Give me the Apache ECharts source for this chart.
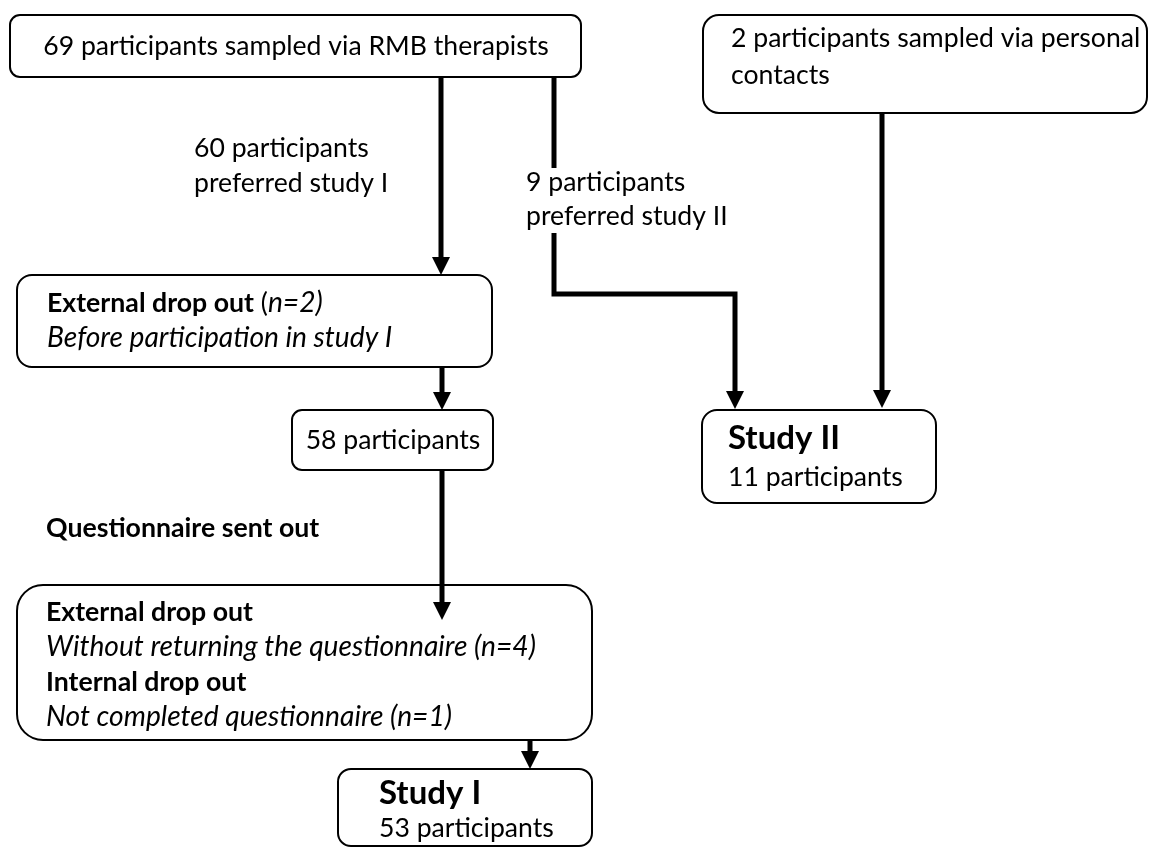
<!DOCTYPE html>
<html><head><meta charset="utf-8">
<script src="https://cdn.jsdelivr.net/npm/echarts@6/dist/echarts.min.js"></script>
<style>html,body{margin:0;padding:0;background:#fff}#c{width:1155px;height:847px}</style>
</head><body><div id="c"></div>
<script>
// ---- values (participant counts) ----
const sampledRMB = 69, sampledPersonal = 2, preferredI = 60, preferredII = 9;
const dropBefore = 2, remaining = 58, studyIICount = 11;
const dropNoReturn = 4, dropIncomplete = 1, studyICount = 53;

// ---- box rectangles [x1, y1, x2, y2] in diagram units ----
const boxRects = [
  [10, 15, 581, 77],
  [703, 15, 1147, 113],
  [17, 275, 492, 367],
  [292, 410, 493, 470],
  [702, 410, 936, 503],
  [17, 585, 592, 740],
  [338, 769, 592, 846]
];

// ---- connectors (polylines, optional arrow head) ----
const connectors = [
  { pts: [[441, 77], [441, 275]], head: true },
  { pts: [[554, 77], [554, 168]], head: false },
  { pts: [[554, 233], [554, 294], [735, 294], [735, 409]], head: true },
  { pts: [[882, 113], [882, 408]], head: true },
  { pts: [[442, 367], [442, 410]], head: true },
  { pts: [[442, 470], [442, 620]], head: true },
  { pts: [[530, 740], [530, 769]], head: true }
];

// ---- text labels ----
const labels = [
  { x: 296, y: 46, align: 'center', text: `${sampledRMB} participants sampled via RMB therapists` },
  { x: 731, y: 38, align: 'left', text: `${sampledPersonal} participants sampled via personal` },
  { x: 731, y: 75, align: 'left', text: 'contacts' },
  { x: 194, y: 148, align: 'left', text: `${preferredI} participants` },
  { x: 194, y: 183, align: 'left', text: 'preferred study I' },
  { x: 526, y: 182, align: 'left', text: `${preferredII} participants` },
  { x: 526, y: 216, align: 'left', text: 'preferred study II' },
  { x: 47, y: 303, align: 'left', text: `{b|External drop out} ({i|n=${dropBefore})}` },
  { x: 47, y: 338, align: 'left', text: '{i|Before participation in study I}' },
  { x: 393, y: 440, align: 'center', text: `${remaining} participants` },
  { x: 728, y: 438, align: 'left', text: '{h|Study II}' },
  { x: 728, y: 477, align: 'left', text: `${studyIICount} participants` },
  { x: 46, y: 528, align: 'left', text: '{b|Questionnaire sent out}' },
  { x: 46, y: 612, align: 'left', text: '{b|External drop out}' },
  { x: 46, y: 647, align: 'left', text: `{i|Without returning the questionnaire (n=${dropNoReturn})}` },
  { x: 46, y: 682, align: 'left', text: '{b|Internal drop out}' },
  { x: 46, y: 717, align: 'left', text: `{i|Not completed questionnaire (n=${dropIncomplete})}` },
  { x: 379, y: 793, align: 'left', text: '{h|Study I}' },
  { x: 379, y: 828, align: 'left', text: `${studyICount} participants` }
];

const FONT = 'Lato';
// fit font sizes so that text widths match the reference typesetting
const mctx = document.createElement('canvas').getContext('2d');
function fitSize(str, style, weight, target) {
  mctx.font = style + ' ' + weight + ' 100px ' + FONT;
  const w = mctx.measureText(str).width;
  return w > 0 ? Math.round(100 * target / w * 10) / 10 : 26;
}
const FS_N = fitSize('69 participants sampled via RMB therapists', 'normal', 'normal', 506);
const FS_I = fitSize('Without returning the questionnaire (n=4)', 'italic', 'normal', 490);
const FS_B = fitSize('External drop out', 'normal', 'bold', 207);
const FS_H = fitSize('Study II', 'normal', 'bold', 112);

const rich = {
  n: { fontFamily: FONT, fontSize: FS_N, fill: '#000' },
  b: { fontFamily: FONT, fontSize: FS_B, fontWeight: 'bold', fill: '#000' },
  i: { fontFamily: FONT, fontSize: FS_I, fontStyle: 'italic', fill: '#000' },
  h: { fontFamily: FONT, fontSize: FS_H, fontWeight: 'bold', fill: '#000' }
};

const chart = echarts.init(document.getElementById('c'), null, { renderer: 'canvas' });

chart.setOption({
  backgroundColor: '#fff',
  animation: false,
  grid: { left: 0, right: 0, top: 0, bottom: 0 },
  xAxis: { type: 'value', min: 0, max: 1155, show: false },
  yAxis: { type: 'value', min: 0, max: 847, inverse: true, show: false },
  series: [
    {
      type: 'custom', clip: false, silent: true,
      data: boxRects,
      encode: { x: [0, 2], y: [1, 3] },
      renderItem: function (params, api) {
        const p1 = api.coord([api.value(0), api.value(1)]);
        const p2 = api.coord([api.value(2), api.value(3)]);
        const w = p2[0] - p1[0], h = p2[1] - p1[1];
        return {
          type: 'rect',
          shape: { x: p1[0], y: p1[1], width: w, height: h, r: Math.round(0.165 * Math.min(w, h)) },
          style: { fill: '#fff', stroke: '#000', lineWidth: 2 }
        };
      }
    },
    {
      type: 'custom', clip: false, silent: true,
      data: connectors.map((c, i) => [c.pts[0][0], c.pts[0][1], i]),
      renderItem: function (params, api) {
        const c = connectors[params.dataIndex];
        const pts = c.pts.map(p => api.coord(p));
        const children = [];
        const HL = 18, HW = 9;
        let line = pts.slice();
        if (c.head) {
          const a = pts[pts.length - 2], b = pts[pts.length - 1];
          const dx = b[0] - a[0], dy = b[1] - a[1];
          const len = Math.sqrt(dx * dx + dy * dy);
          const ux = dx / len, uy = dy / len;
          const base = [b[0] - ux * HL, b[1] - uy * HL];
          line[line.length - 1] = [base[0] + ux * 1, base[1] + uy * 1];
          children.push({
            type: 'polygon',
            shape: { points: [b, [base[0] - uy * HW, base[1] + ux * HW], [base[0] + uy * HW, base[1] - ux * HW]] },
            style: { fill: '#000' }
          });
        }
        children.unshift({
          type: 'polyline',
          shape: { points: line },
          style: { stroke: '#000', lineWidth: 5, fill: null, lineJoin: 'miter' }
        });
        return { type: 'group', children: children };
      }
    },
    {
      type: 'custom', clip: false, silent: true,
      data: labels.map((l, i) => [l.x, l.y, i]),
      renderItem: function (params, api) {
        const l = labels[params.dataIndex];
        const p = api.coord([api.value(0), api.value(1)]);
        const txt = /\{[a-z]\|/.test(l.text) ? l.text : '{n|' + l.text + '}';
        return {
          type: 'text',
          style: {
            x: p[0], y: p[1], text: txt, rich: rich,
            fontFamily: FONT, fontSize: FS_N, fill: '#000',
            align: l.align, verticalAlign: 'middle'
          }
        };
      }
    }
  ]
});
</script>
</body></html>
